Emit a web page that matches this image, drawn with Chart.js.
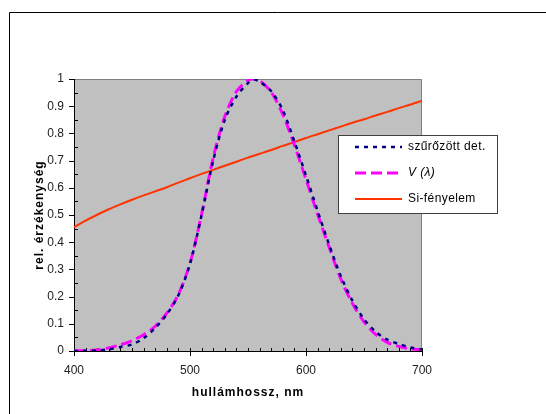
<!DOCTYPE html>
<html>
<head>
<meta charset="utf-8">
<script src="https://cdn.jsdelivr.net/npm/chart.js@4"></script>
<style>
  html, body { margin: 0; padding: 0; background: #fff; }
  #wrap { width: 546px; height: 414px; position: relative; }
</style>
</head>
<body>
<div id="wrap"><canvas id="chart" width="546" height="414"></canvas></div>
<script>
// hullámhossz (nm)
const wavelengths = [400,410,420,430,440,450,460,470,480,490,500,510,520,530,540,550,555,560,570,580,590,600,610,620,630,640,650,660,670,680,690,700]
// szűrőzött detektor
const detValues   = [0,0.001,0.002,0.006,0.015,0.024,0.047,0.085,0.135,0.205,0.32,0.50,0.70,0.85,0.935,0.985,0.998,0.99,0.955,0.885,0.77,0.645,0.515,0.39,0.275,0.185,0.117,0.071,0.042,0.026,0.013,0.006]
// V(λ)
const vLambda     = [0.0004,0.0012,0.004,0.0116,0.023,0.038,0.06,0.091,0.139,0.208,0.323,0.503,0.71,0.862,0.954,0.995,1.0,0.995,0.952,0.87,0.757,0.631,0.503,0.381,0.265,0.175,0.107,0.061,0.032,0.017,0.0082,0.0041]
// Si-fényelem
const siValues    = [0.455,0.479,0.501,0.521,0.539,0.556,0.572,0.587,0.602,0.619,0.635,0.651,0.666,0.681,0.696,0.711,0.718,0.725,0.739,0.754,0.768,0.783,0.797,0.811,0.825,0.839,0.852,0.866,0.879,0.893,0.906,0.92]

const xTitle = 'hullámhossz, nm'
const yTitle = 'rel. érzékenység'

const legendItems = [
  { text: 'szűrőzött det.', color: '#000080', width: 2.5, dash: [4,5], italic: false },
  { text: 'V (λ)',          color: '#ff00ff', width: 3,   dash: [11,5], italic: true },
  { text: 'Si-fényelem',    color: '#ff3300', width: 2,   dash: [],    italic: false },
]

const pts = vals => vals.map((v,i) => ({ x: wavelengths[i], y: v }))
const FONT = 'Liberation Sans, Arial, sans-serif'

const decor = {
  id: 'decor',
  beforeDraw(chart) {
    const { ctx, chartArea: a } = chart
    ctx.save()
    ctx.fillStyle = '#c0c0c0'
    ctx.fillRect(a.left, a.top, a.right - a.left, a.bottom - a.top)
    // outer frame
    ctx.strokeStyle = '#000'
    ctx.lineWidth = 1
    ctx.beginPath()
    ctx.moveTo(9.5, 414); ctx.lineTo(9.5, 12.5); ctx.lineTo(546, 12.5)
    ctx.stroke()
    // plot border top / right
    ctx.strokeStyle = '#808080'
    ctx.beginPath()
    ctx.moveTo(a.left, a.top + 0.5); ctx.lineTo(a.right - 0.5, a.top + 0.5); ctx.lineTo(a.right - 0.5, a.bottom)
    ctx.stroke()
    ctx.restore()
  },
  beforeDatasetsDraw(chart) {
    const { ctx, chartArea: a, scales: { x, y } } = chart
    ctx.save()
    ctx.strokeStyle = '#000'
    ctx.lineWidth = 1
    ctx.beginPath()
    ctx.moveTo(a.left + 0.5, a.top); ctx.lineTo(a.left + 0.5, a.bottom + 0.5); ctx.lineTo(a.right, a.bottom + 0.5)
    for (let w = 400; w <= 700; w += 10) {
      const px = Math.round(x.getPixelForValue(w)) + 0.5
      const major = w % 100 === 0
      ctx.moveTo(px, a.bottom - 3); ctx.lineTo(px, a.bottom + (major ? 5 : 0.5))
    }
    for (let k = 0; k <= 20; k++) {
      const py = Math.round(y.getPixelForValue(k * 0.05)) + 0.5
      if (k % 2 === 0) { ctx.moveTo(a.left - 5, py); ctx.lineTo(a.left + 0.5, py) }
      else { ctx.moveTo(a.left, py); ctx.lineTo(a.left + 4, py) }
    }
    ctx.stroke()
    ctx.restore()
  },
  afterDraw(chart) {
    const { ctx, chartArea: a } = chart
    ctx.save()
    // axis titles
    ctx.fillStyle = '#000'
    ctx.font = 'bold 12px ' + FONT
    ctx.letterSpacing = '1px'
    ctx.textAlign = 'center'
    ctx.textBaseline = 'middle'
    ctx.fillText(xTitle, (a.left + a.right) / 2, 393)
    ctx.save()
    ctx.translate(40, 215)
    ctx.rotate(-Math.PI / 2)
    ctx.fillText(yTitle, 0, 0)
    ctx.restore()
    ctx.letterSpacing = '0.4px'
    ctx.textAlign = 'left'
    // legend
    ctx.fillStyle = '#fff'
    ctx.fillRect(338, 135, 159, 78)
    ctx.strokeStyle = '#404040'
    ctx.lineWidth = 1
    ctx.strokeRect(338.5, 135.5, 159, 78)
    const rows = [147, 173, 199]
    legendItems.forEach((it, i) => {
      ctx.strokeStyle = it.color
      ctx.lineWidth = it.width
      ctx.setLineDash(it.dash)
      ctx.beginPath(); ctx.moveTo(355, rows[i]); ctx.lineTo(402, rows[i]); ctx.stroke()
      ctx.setLineDash([])
      ctx.fillStyle = '#000'
      ctx.font = (it.italic ? 'italic ' : '') + '12px ' + FONT
      ctx.fillText(it.text, 408, rows[i])
    })
    ctx.restore()
  }
}

new Chart(document.getElementById('chart'), {
  type: 'line',
  data: {
    datasets: [
      { label: 'szűrőzött det.', data: pts(detValues), borderColor: '#000080', borderWidth: 2.5, borderDash: [4,5], pointRadius: 0, tension: 0.3 },
      { label: 'V (λ)', data: pts(vLambda), borderColor: '#ff00ff', borderWidth: 3, borderDash: [11,5], pointRadius: 0, tension: 0.3 },
      { label: 'Si-fényelem', data: pts(siValues), borderColor: '#ff3300', borderWidth: 2, pointRadius: 0, tension: 0.3 },
    ]
  },
  options: {
    responsive: false,
    animation: false,
    devicePixelRatio: 1,
    layout: { padding: { left: 0, top: 79, right: 124, bottom: 0 } },
    plugins: { legend: { display: false }, tooltip: { enabled: false } },
    scales: {
      x: {
        type: 'linear', min: 400, max: 700,
        afterFit: s => { s.height = 63 },
        grid: { display: false, drawTicks: false },
        border: { display: false },
        ticks: { stepSize: 100, padding: 12, color: '#222', font: { family: FONT, size: 12 } }
      },
      y: {
        min: 0, max: 1,
        afterFit: s => { s.width = 74 },
        grid: { display: false, drawTicks: false },
        border: { display: false },
        ticks: { stepSize: 0.1, padding: 10, color: '#222', font: { family: FONT, size: 12 },
                 callback: v => String(+v.toFixed(1)) }
      }
    }
  },
  plugins: [decor]
})
</script>
</body>
</html>
